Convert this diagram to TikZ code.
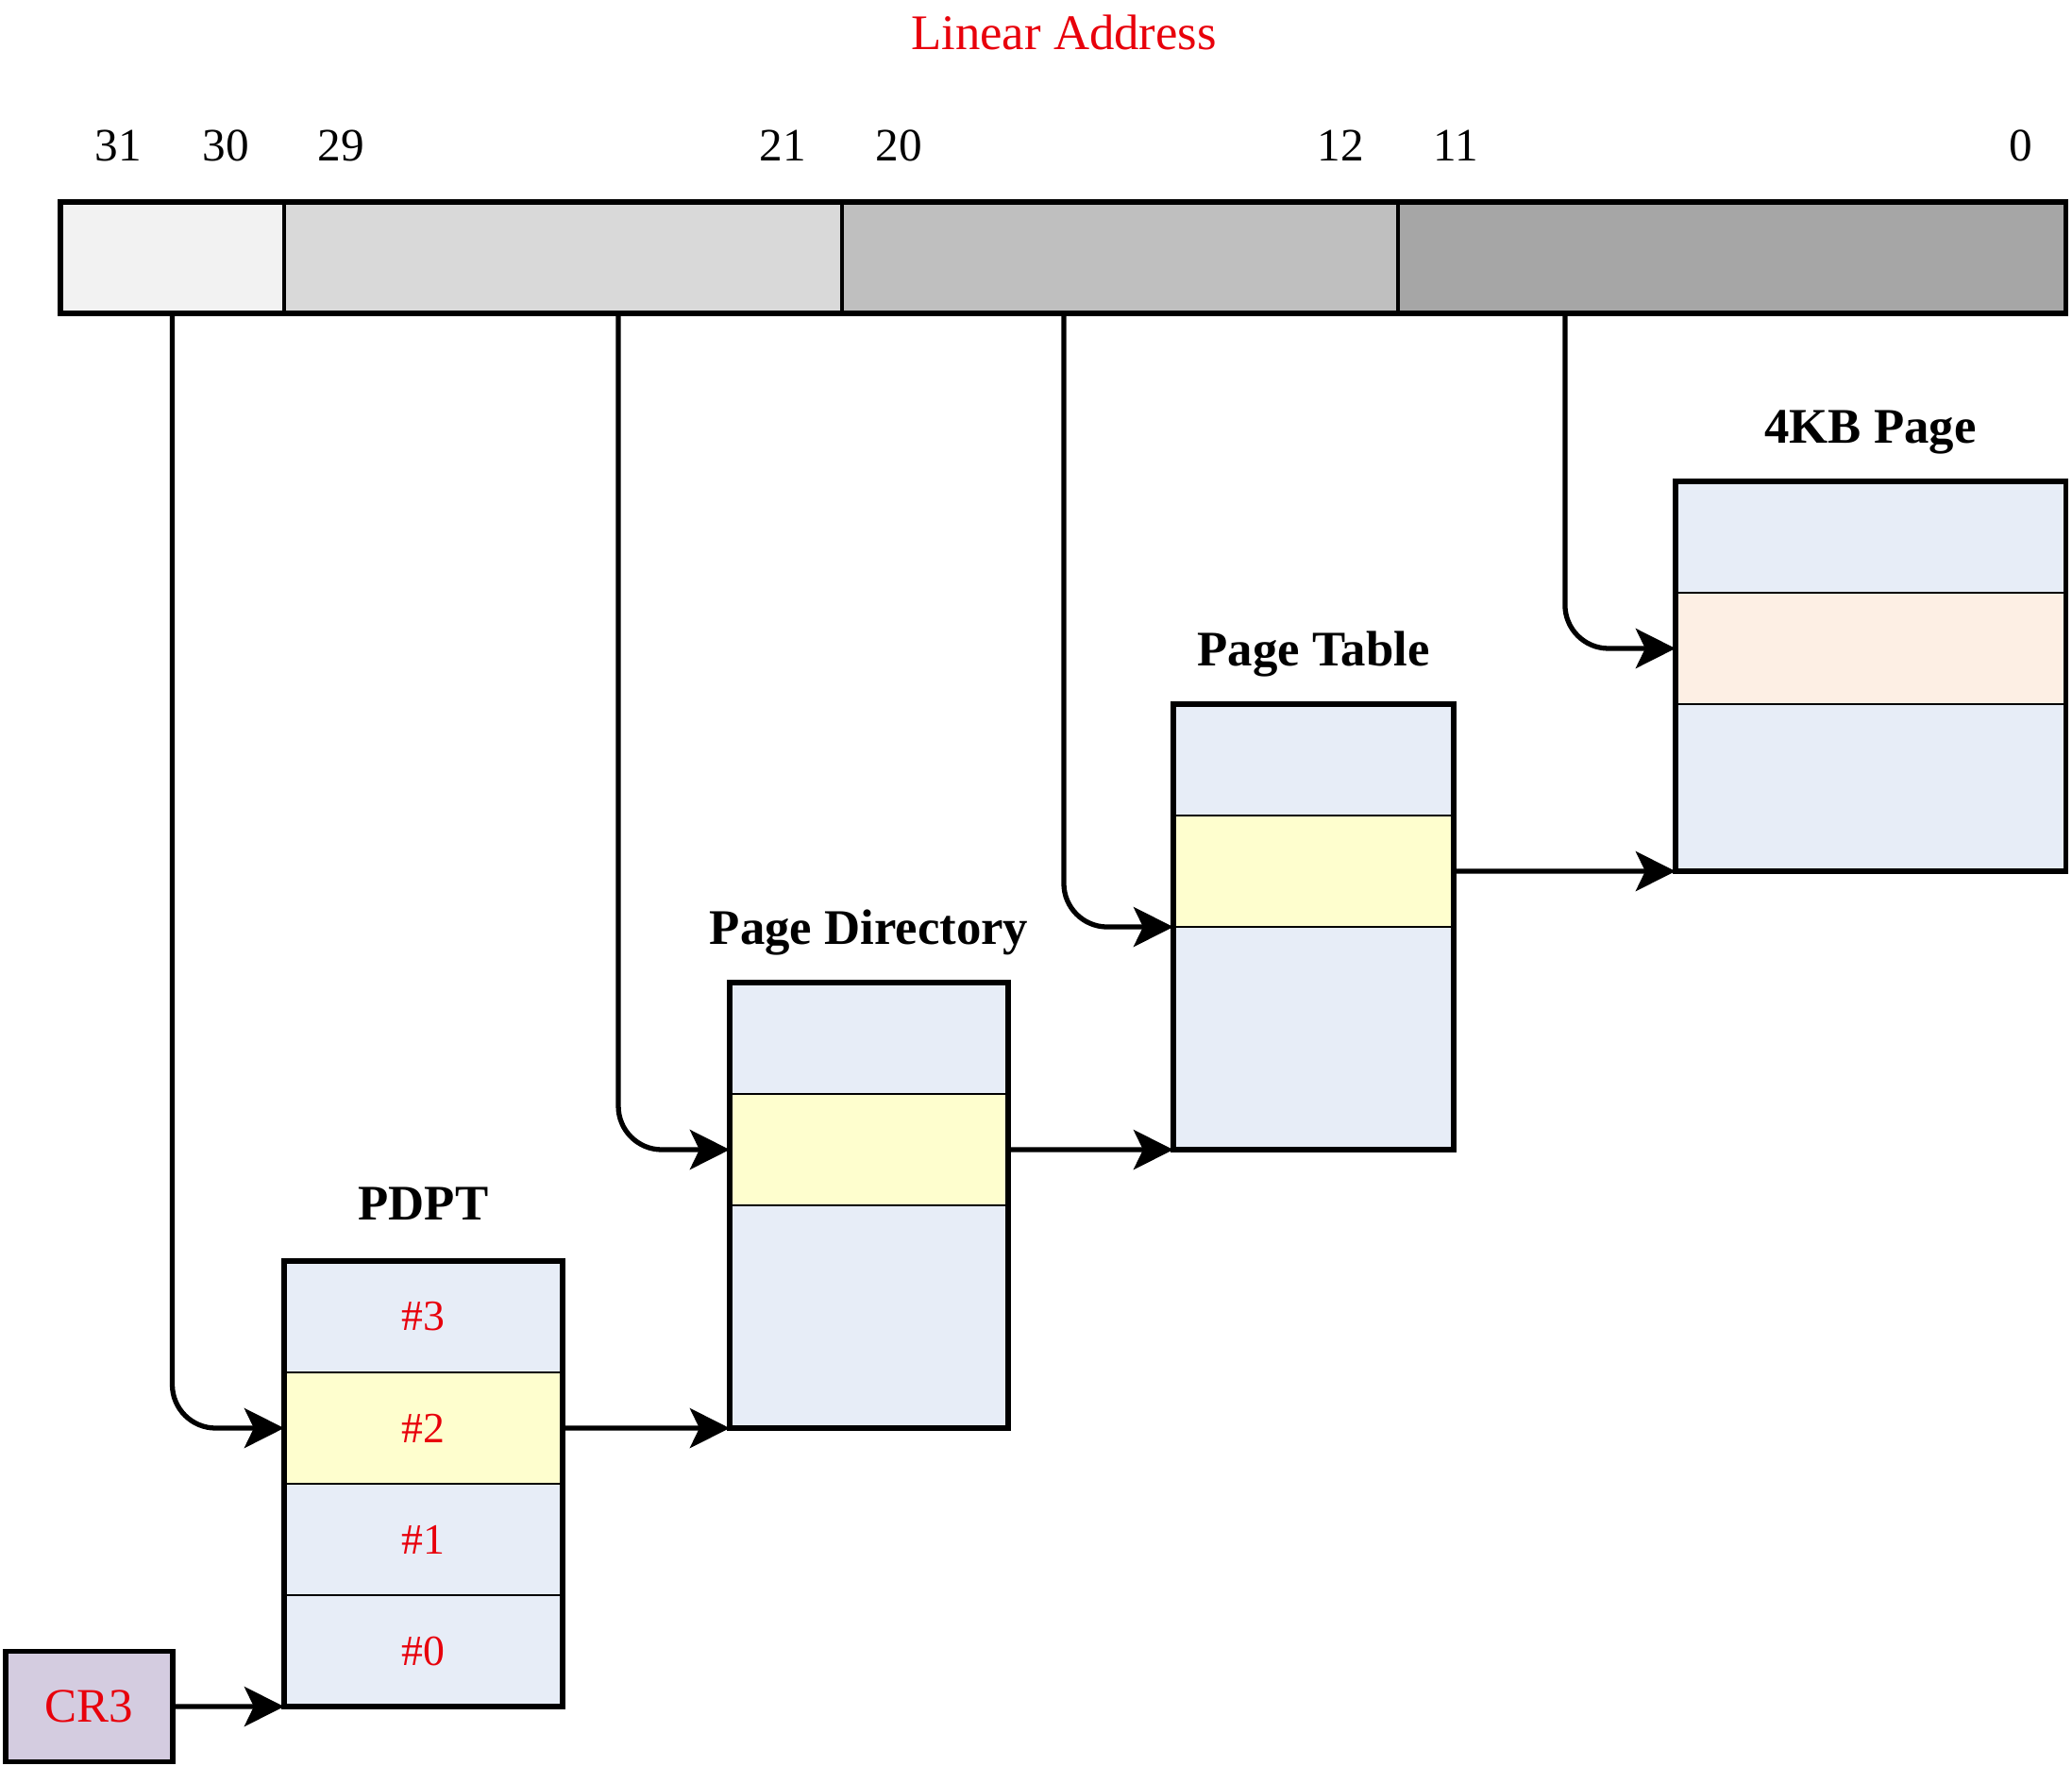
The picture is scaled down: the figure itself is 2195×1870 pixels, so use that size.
\documentclass[tikz,border=0pt]{standalone}
\usepackage{fontspec}
\setmainfont{Liberation Serif}
\usetikzlibrary{arrows.meta,fit}
\definecolor{segA}{HTML}{F2F2F2}
\definecolor{segB}{HTML}{D9D9D9}
\definecolor{segC}{HTML}{BFBFBF}
\definecolor{segD}{HTML}{A6A6A6}
\definecolor{rowblue}{HTML}{E7EDF7}
\definecolor{rowyellow}{HTML}{FEFECE}
\definecolor{rowpeach}{HTML}{FDEFE4}
\definecolor{crpurple}{HTML}{D4CCE0}
\definecolor{txtred}{HTML}{E8000B}
\begin{document}
\begin{tikzpicture}[x=0.01cm,y=-0.01cm,
  seg/.style={draw, line width=1.1pt, minimum height=1.18cm, inner sep=0pt, outer sep=0pt},
  row/.style={draw, line width=0.6pt, inner sep=0pt, outer sep=0pt, text=txtred, font=\fontsize{13}{15}\selectfont},
  tbl/.style={draw, line width=1.5pt, inner sep=0pt, outer sep=0pt},
  conn/.style={line width=1.5pt, line join=round, rounded corners=0.46cm, -{Stealth[length=0.42cm,width=0.42cm,inset=0.1cm]}},
  bitnum/.style={anchor=base, font=\fontsize{14}{17}\selectfont},
  lab/.style={anchor=base, font=\bfseries\fontsize{15}{18}\selectfont}]
\useasboundingbox (0,0) rectangle (2195,1870);

% title and bit numbers
\node[anchor=base, text=txtred, font=\fontsize{15}{18}\selectfont] (title) at (1127,53) {Linear Address};
\node[bitnum] (b31) at (125,171) {31};
\node[bitnum] (b30) at (239,171) {30};
\node[bitnum] (b29) at (361,171) {29};
\node[bitnum] (b21) at (829,171) {21};
\node[bitnum] (b20) at (952,171) {20};
\node[bitnum] (b12) at (1420,171) {12};
\node[bitnum] (b11) at (1542,171) {11};
\node[bitnum] (b0) at (2141,171) {0};

% linear address bar
\node[seg, fill=segA, minimum width=2.37cm] (seg1) at (182.5,273) {};
\node[seg, fill=segB, minimum width=5.91cm] (seg2) at (596.5,273) {};
\node[seg, fill=segC, minimum width=5.89cm] (seg3) at (1186.5,273) {};
\node[seg, fill=segD, minimum width=7.07cm] (seg4) at (1834.5,273) {};
\node[tbl, fit=(seg1)(seg4)] (bar) {};

% PDPT
\node[row, fill=rowblue, minimum width=2.95cm, minimum height=1.18cm] (p3) at (448.5,1395) {\#3};
\node[row, fill=rowyellow, minimum width=2.95cm, minimum height=1.18cm] (p2) at (448.5,1513) {\#2};
\node[row, fill=rowblue, minimum width=2.95cm, minimum height=1.18cm] (p1) at (448.5,1631) {\#1};
\node[row, fill=rowblue, minimum width=2.95cm, minimum height=1.18cm] (p0) at (448.5,1749) {\#0};
\node[tbl, fit=(p3)(p0)] (pdpt) {};
\node[lab] (pdptlab) at (448.5,1292) {PDPT};

% Page Directory
\node[row, fill=rowblue, minimum width=2.95cm, minimum height=1.18cm] (pdt) at (920.5,1100) {};
\node[row, fill=rowyellow, minimum width=2.95cm, minimum height=1.18cm] (pdy) at (920.5,1218) {};
\node[row, fill=rowblue, minimum width=2.95cm, minimum height=2.36cm] (pdb) at (920.5,1395) {};
\node[tbl, fit=(pdt)(pdb)] (pd) {};
\node[lab] (pdlab) at (920.5,1000) {Page Directory};

% Page Table
\node[row, fill=rowblue, minimum width=2.97cm, minimum height=1.18cm] (ptt) at (1391.5,805) {};
\node[row, fill=rowyellow, minimum width=2.97cm, minimum height=1.18cm] (pty) at (1391.5,923) {};
\node[row, fill=rowblue, minimum width=2.97cm, minimum height=2.36cm] (ptb) at (1391.5,1100) {};
\node[tbl, fit=(ptt)(ptb)] (pt) {};
\node[lab] (ptlab) at (1391.5,705) {Page Table};

% 4KB Page
\node[row, fill=rowblue, minimum width=4.13cm, minimum height=1.18cm] (pgt) at (1981.5,569) {};
\node[row, fill=rowpeach, minimum width=4.13cm, minimum height=1.18cm] (pgm) at (1981.5,687) {};
\node[row, fill=rowblue, minimum width=4.13cm, minimum height=1.77cm] (pgb) at (1981.5,834.5) {};
\node[tbl, fit=(pgt)(pgb)] (pg) {};
\node[lab] (pglab) at (1981.5,469) {4KB Page};

% CR3
\node[tbl, fill=crpurple, minimum width=1.77cm, minimum height=1.17cm, text=txtred, font=\fontsize{14.5}{17}\selectfont] (cr3) at (94.5,1808) {CR3};

% connectors
\draw[conn] (seg1.south) |- (p2.west);
\draw[conn] ([xshift=0.585cm]seg2.south) |- (pdy.west);
\draw[conn] ([xshift=-0.595cm]seg3.south) |- (pty.south west);
\draw[conn] ([xshift=-1.765cm]seg4.south) |- (pgm.west);
\draw[conn] (cr3.east) -- (pdpt.south west);
\draw[conn] (p2.east) -- (pd.south west);
\draw[conn] (pdy.east) -- (pt.south west);
\draw[conn] (pty.east) -- (pg.south west);
\end{tikzpicture}
\end{document}
